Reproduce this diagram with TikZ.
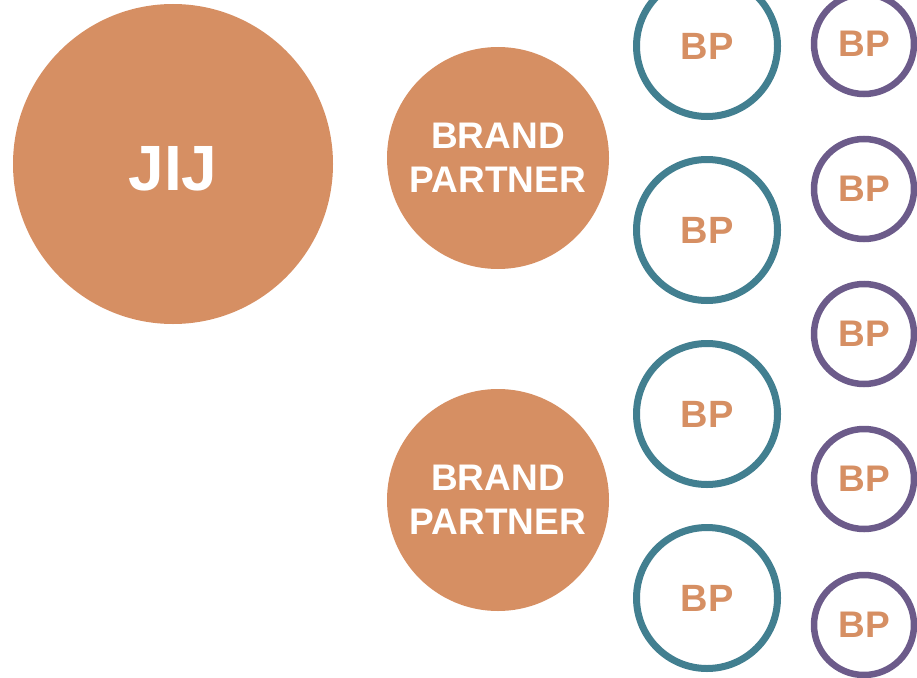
\documentclass[tikz,border=0pt]{standalone}
\usepackage{fontspec}
\setmainfont{Liberation Sans}
\usepackage{tikz}
\usetikzlibrary{positioning}
\definecolor{jijclr}{RGB}{214,143,99}
\definecolor{tealclr}{RGB}{66,127,144}
\definecolor{purpclr}{RGB}{108,91,138}
\tikzset{
  core/.style={circle,fill=jijclr,draw=none,inner sep=0pt,text=white,
               font=\bfseries\fontsize{64}{70}\selectfont},
  partner/.style={circle,fill=jijclr,draw=none,inner sep=0pt,text=white,
                  minimum size=222pt,align=center,
                  font=\bfseries\fontsize{37}{44}\selectfont},
  tealbp/.style={circle,draw=tealclr,line width=7pt,fill=white,inner sep=0pt,
                 minimum size=141pt,text=jijclr,
                 font=\bfseries\fontsize{38}{40}\selectfont},
  purpbp/.style={circle,draw=purpclr,line width=6.5pt,fill=white,inner sep=0pt,
                 minimum size=100pt,text=jijclr,
                 font=\bfseries\fontsize{37}{40}\selectfont},
}
\begin{document}
\begin{tikzpicture}[x=1pt, y=-1pt]
\useasboundingbox (0,0) rectangle (917,677);

\node[core,minimum size=320pt,text height=54pt] (jij) at (173,164) {JIJ};

\node[partner] (bp1) at (498,158) {BRAND\\PARTNER};
\node[partner] (bp2) at (498,500) {BRAND\\PARTNER};

% second ring
\foreach \i/\y in {1/46,2/230,3/414,4/598} {
  \node[tealbp] (t\i) at (707,\y) {BP};
}
% third ring
\foreach \i/\y in {1/44,2/189,3/334,4/479,5/625} {
  \node[purpbp] (p\i) at (864,\y) {BP};
}
\end{tikzpicture}
\end{document}
